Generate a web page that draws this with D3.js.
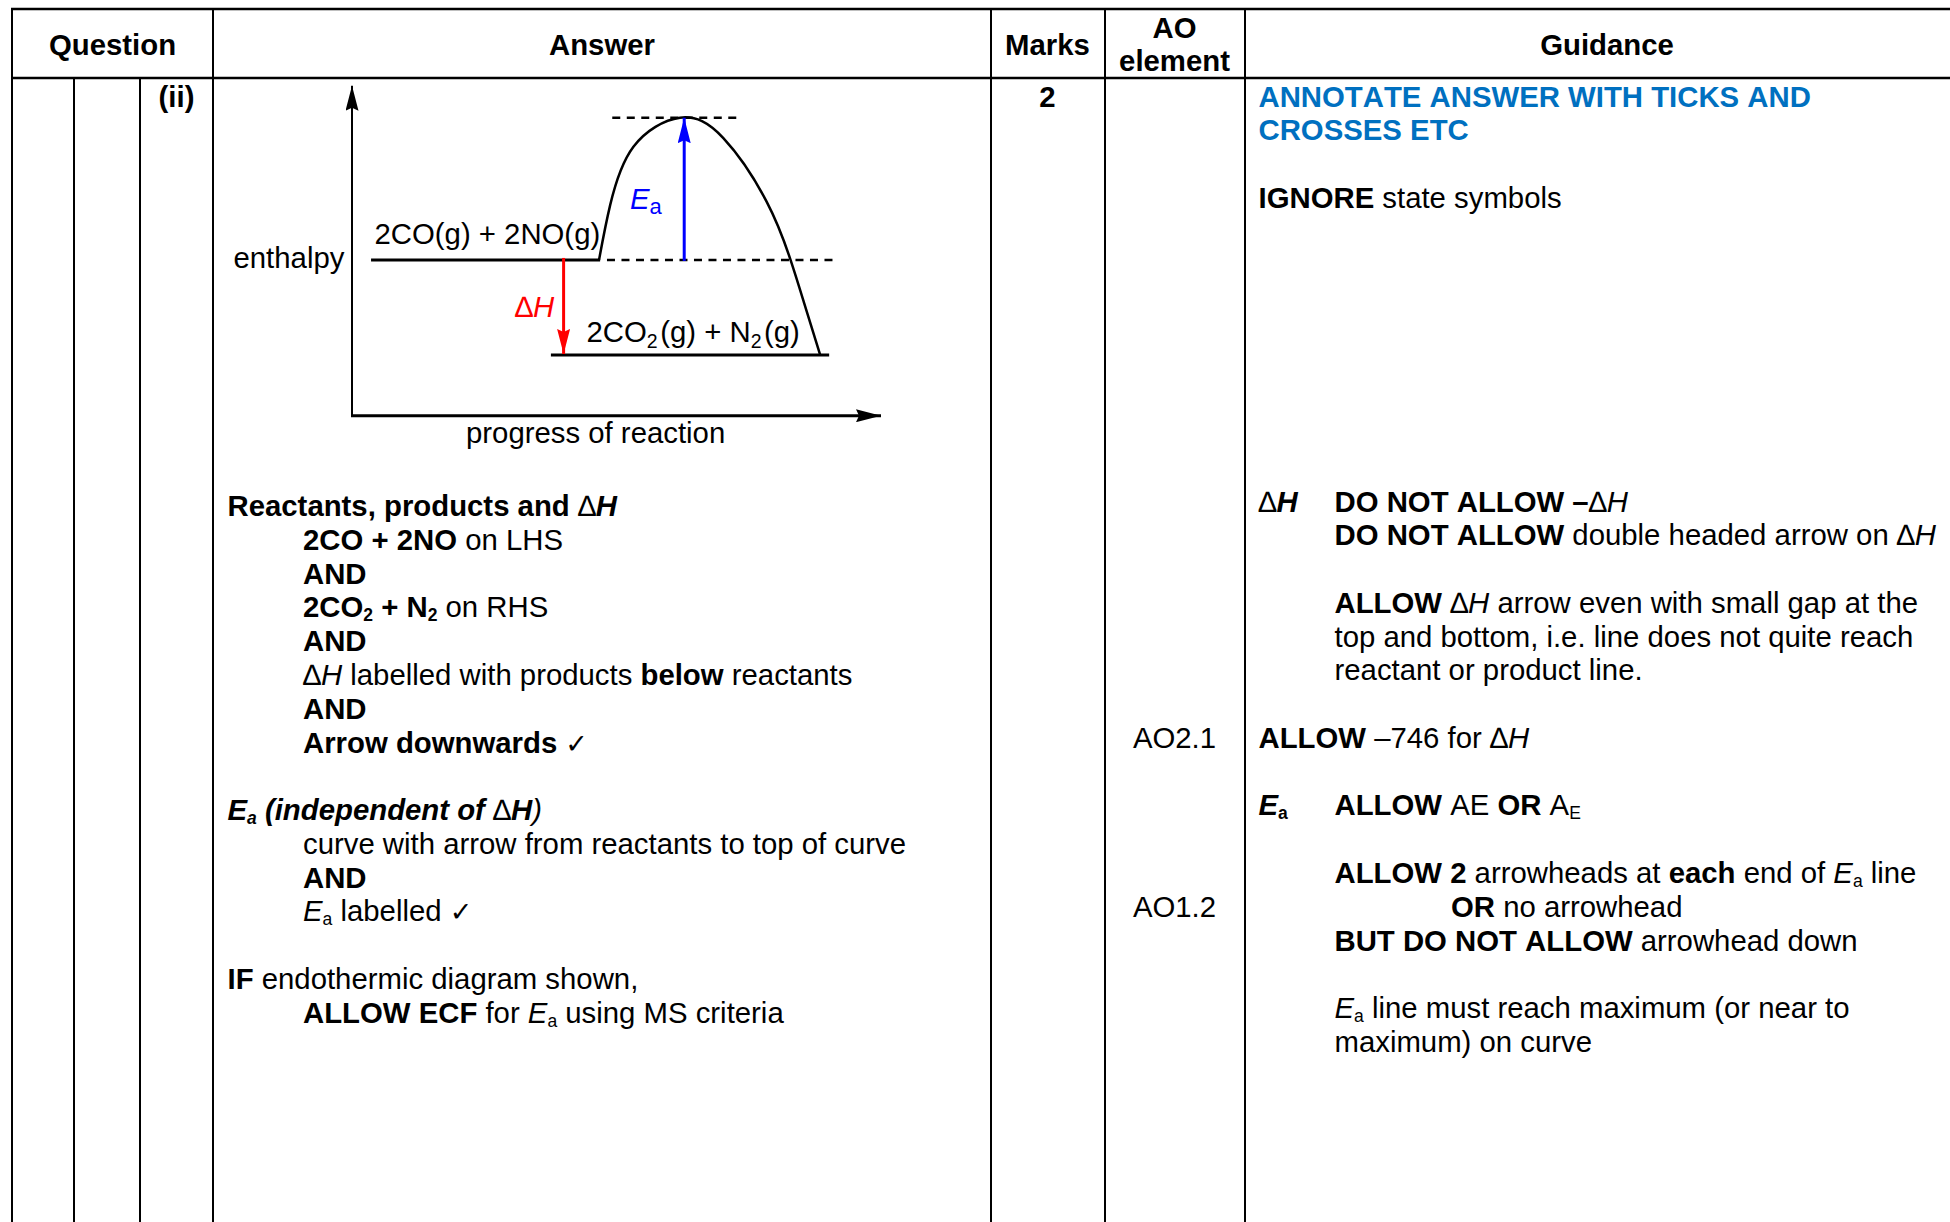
<!DOCTYPE html>
<html>
<head>
<meta charset="utf-8">
<script src="https://cdn.jsdelivr.net/npm/d3@7/dist/d3.min.js"></script>
<style>
  html, body { margin: 0; padding: 0; background: #fff; }
  svg { display: block; }
  text { font-family: "Liberation Sans", Arial, sans-serif; font-size: 29.33px; fill: #000; white-space: pre; font-kerning: none; }
</style>
</head>
<body>
<div id="chart"></div>
<script>
// table text. <b> <i> <sub> <t> are inline styles, \t jumps to next tab stop
const headers = ["Question", "Answer", "Marks", "Guidance"]
const aoHeader = ["AO", "element"]
const questionPart = "(ii)"
const marks = "2"

const answerLines = [
  "<b>Reactants, products and </b>∆<b><i>H</i></b>",
  "\t<b>2CO + 2NO</b> on LHS",
  "\t<b>AND</b>",
  "\t<b>2CO<sub>2</sub> + N<sub>2</sub></b> on RHS",
  "\t<b>AND</b>",
  "\t∆<i>H</i> labelled with products <b>below</b> reactants",
  "\t<b>AND</b>",
  "\t<b>Arrow downwards</b> <t>✓</t>",
  "",
  "<b><i>E<sub>a</sub> (independent of </i></b>∆<b><i>H</i></b><i>)</i>",
  "\tcurve with arrow from reactants to top of curve",
  "\t<b>AND</b>",
  "\t<i>E</i><sub>a</sub> labelled <t>✓</t>",
  "",
  "<b>IF</b> endothermic diagram shown,",
  "\t<b>ALLOW ECF</b> for <i>E</i><sub>a</sub> using MS criteria"
]

const guidanceLines = [
  "<b>ANNOTATE ANSWER WITH TICKS AND</b>",
  "<b>CROSSES ETC</b>",
  "",
  "<b>IGNORE</b> state symbols",
  "", "", "", "", "", "", "", "",
  "∆<b><i>H</i></b>\t<b>DO NOT ALLOW –</b>∆<i>H</i>",
  "\t<b>DO NOT ALLOW</b> double headed arrow on ∆<i>H</i>",
  "",
  "\t<b>ALLOW</b> ∆<i>H</i> arrow even with small gap at the",
  "\ttop and bottom, i.e. line does not quite reach",
  "\treactant or product line.",
  "",
  "<b>ALLOW</b> –746 for ∆<i>H</i>",
  "",
  "<b><i>E</i><sub>a</sub></b>\t<b>ALLOW</b> AE <b>OR</b> A<sub>E</sub>",
  "",
  "\t<b>ALLOW 2</b> arrowheads at <b>each</b> end of <i>E</i><sub>a</sub> line",
  "\t\t<b>OR</b> no arrowhead",
  "\t<b>BUT DO NOT ALLOW</b> arrowhead down",
  "",
  "\t<i>E</i><sub>a</sub> line must reach maximum (or near to",
  "\tmaximum) on curve"
]

const aoLabels = ["AO2.1", "AO1.2"]
const aoRows = [19, 24]

// diagram, in axis percent
const curveProgress = [46.7, 48.8, 53.2, 62.0, 70.2, 78.4, 82.9, 85.4, 88.5]
const curveEnthalpy = [47.2, 63.8, 81.5, 90.3, 84.1, 64.8, 47.2, 34.5, 18.4]
const reactantEnthalpy = 47.2
const productEnthalpy = 18.4
const peakEnthalpy = 90.3
const reactantSpan = [3.6, 46.9]
const productSpan = [37.6, 90.2]
const peakDashSpan = [49.2, 72.8]
const reactantDashSpan = [48.2, 91.1]
const eaProgress = 62.8
const dhProgress = 40.0

var width = 1950, height = 1222
var lineHeight = 33.76
var columns = [12, 74, 140, 213, 991, 1105, 1245]
var tableTop = 9, headerBottom = 78

var svg = d3.select("#chart").append("svg")
  .attr("width", width)
  .attr("height", height)

var xScale = d3.scaleLinear().domain([0, 100]).range([352, 881])
var yScale = d3.scaleLinear().domain([0, 100]).range([415.7, 85.7])

function addMarker(id, color, len, wide) {
  svg.append("defs").append("marker")
    .attr("id", id)
    .attr("markerUnits", "userSpaceOnUse")
    .attr("markerWidth", len)
    .attr("markerHeight", wide)
    .attr("refX", len)
    .attr("refY", wide / 2)
    .attr("orient", "auto")
    .append("path")
    .attr("d", "M0,0L" + len + "," + (wide / 2) + "L0," + wide + "L3," + (wide / 2) + "Z")
    .attr("fill", color)
}
addMarker("headBlack", "#000", 25, 13)
addMarker("headBlue", "#0000ff", 25.5, 13)
addMarker("headRed", "#ff0000", 25, 13)

// split the markup into styled tspans
function addRuns(el, str, subSize, subDrop, subGap) {
  var bold = false, ital = false, sub = false, tick = false, wasSub = false
  str.split(/(<\/?(?:b|i|sub|t)>)/).forEach(function(part) {
    if (part == "<b>") bold = true
    else if (part == "</b>") bold = false
    else if (part == "<i>") ital = true
    else if (part == "</i>") ital = false
    else if (part == "<sub>") sub = true
    else if (part == "</sub>") sub = false
    else if (part == "<t>") tick = true
    else if (part == "</t>") tick = false
    else if (part != "") {
      var run = el.append("tspan").text(part)
      if (bold) run.attr("font-weight", "bold")
      if (ital) run.attr("font-style", "italic")
      if (sub) run.style("font-size", subSize + "px").attr("dy", wasSub ? 0 : subDrop)
      else if (wasSub) run.attr("dy", -subDrop).attr("dx", subGap)
      if (tick) run.style("font-family", "DejaVu Sans").style("font-size", "27px")
      wasSub = sub
    }
  })
}

function addText(x, y, str, anchor, color, subSize, subDrop, subGap) {
  var el = svg.append("text")
    .attr("x", x)
    .attr("y", y)
    .attr("text-anchor", anchor || "start")
  if (color) el.style("fill", color)
  addRuns(el, str, subSize || 17.5, subDrop || 4, subGap || 0)
  return el
}

function addBlock(lines, top, stops, color) {
  lines.forEach(function(line, row) {
    line.split("\t").forEach(function(seg, i) {
      if (seg != "") addText(stops[i], top + row * lineHeight, seg, "start", color && color(row))
    })
  })
}

// table rules
svg.append("g").selectAll("line")
  .data(columns)
  .enter().append("line")
  .attr("x1", function(d) { return d })
  .attr("x2", function(d) { return d })
  .attr("y1", function(d, i) { return (i == 1 || i == 2) ? headerBottom : tableTop })
  .attr("y2", height)
  .attr("stroke", "#000")
  .attr("stroke-width", 2)

svg.append("line").attr("x1", 11).attr("x2", width).attr("y1", tableTop).attr("y2", tableTop)
  .attr("stroke", "#000").attr("stroke-width", 2.5)
svg.append("line").attr("x1", 11).attr("x2", width).attr("y1", headerBottom).attr("y2", headerBottom)
  .attr("stroke", "#000").attr("stroke-width", 2.5)

// header row
addText(112.5, 54.5, "<b>" + headers[0] + "</b>", "middle")
addText(602, 54.5, "<b>" + headers[1] + "</b>", "middle")
addText(1047.5, 54.5, "<b>" + headers[2] + "</b>", "middle")
addText(1174.5, 38, "<b>" + aoHeader[0] + "</b>", "middle")
addText(1174.5, 71, "<b>" + aoHeader[1] + "</b>", "middle")
addText(1607, 54.5, "<b>" + headers[3] + "</b>", "middle")

addText(176.5, 106.5, "<b>" + questionPart + "</b>", "middle")
addText(1047.5, 106.5, "<b>" + marks + "</b>", "middle")

aoLabels.forEach(function(d, i) {
  addText(1174.5, 106.3 + aoRows[i] * lineHeight, d, "middle")
})

addBlock(answerLines, 516.2, [227.5, 303])
addBlock(guidanceLines, 106.5, [1258.5, 1334.5, 1451], function(row) { return row < 2 ? "#0070c0" : null })

// energy diagram
function hLine(span, level, w, dash) {
  var l = svg.append("line")
    .attr("x1", xScale(span[0]))
    .attr("x2", xScale(span[1]))
    .attr("y1", yScale(level))
    .attr("y2", yScale(level))
    .attr("stroke", "#000")
    .attr("stroke-width", w)
  if (dash) l.attr("stroke-dasharray", dash)
}

function vArrow(x, y1, y2, color, marker, w) {
  svg.append("line")
    .attr("x1", x)
    .attr("x2", x)
    .attr("y1", y1)
    .attr("y2", y2)
    .attr("stroke", color)
    .attr("stroke-width", w)
    .attr("marker-end", "url(#" + marker + ")")
}

hLine(peakDashSpan, peakEnthalpy, 2.4, "8,6.5")
hLine(reactantDashSpan, reactantEnthalpy, 2.4, "8,6.5")
hLine(reactantSpan, reactantEnthalpy, 3)
hLine(productSpan, productEnthalpy, 3)

var line = d3.line()
  .x(function(d, i) { return xScale(curveProgress[i]) })
  .y(function(d) { return yScale(d) })
  .curve(d3.curveNatural)

svg.append("path")
  .datum(curveEnthalpy)
  .attr("d", line)
  .attr("fill", "none")
  .attr("stroke", "#000")
  .attr("stroke-width", 2.5)

// axes
vArrow(xScale(0), yScale(0) + 1, yScale(100), "#000", "headBlack", 2)
svg.append("line")
  .attr("x1", xScale(0) - 1)
  .attr("x2", xScale(100))
  .attr("y1", yScale(0))
  .attr("y2", yScale(0))
  .attr("stroke", "#000")
  .attr("stroke-width", 3)
  .attr("marker-end", "url(#headBlack)")

vArrow(xScale(eaProgress), yScale(reactantEnthalpy) + 1, yScale(peakEnthalpy), "#0000ff", "headBlue", 3)
vArrow(xScale(dhProgress), yScale(reactantEnthalpy) - 2, yScale(productEnthalpy) - 1, "#ff0000", "headRed", 3)

// diagram labels
addText(233.5, 268, "enthalpy")
addText(374.5, 244, "2CO(g) + 2NO(g)")
addText(586.5, 342, "2CO<sub>2</sub>(g) + N<sub>2</sub>(g)", "start", null, 19.5, 6, 2.5)
addText(466, 443, "progress of reaction")
addText(630, 209, "<i>E</i><sub>a</sub>", "start", "#0000ff", 22, 5)
addText(515, 317, "∆<i>H</i>", "start", "#ff0000")
</script>
</body>
</html>
